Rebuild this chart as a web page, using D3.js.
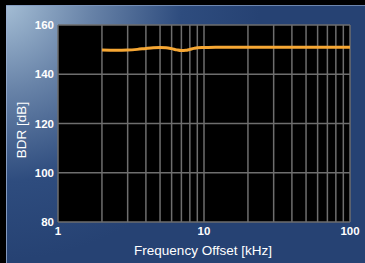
<!DOCTYPE html>
<html><head><meta charset="utf-8">
<script src="https://cdn.jsdelivr.net/npm/d3@7/dist/d3.min.js"></script>
<style>html,body{margin:0;padding:0;background:#000;}svg{display:block;}</style>
</head><body>
<script>
const freqs = [2, 2.5, 3, 3.5, 4, 4.5, 5, 5.5, 6, 6.5, 7, 7.5, 8, 8.5, 9, 10, 12, 15, 20, 30, 50, 70, 100];
const bdr   = [149.8, 149.7, 149.8, 150.1, 150.5, 150.8, 150.9, 150.8, 150.4, 149.9, 149.6, 149.7, 150.1, 150.5, 150.8, 150.9, 151, 151, 151, 151, 151, 151, 151];
const yTicks = [80, 100, 120, 140, 160];
const xTicks = [1, 10, 100];
const xMinor = [2,3,4,5,6,7,8,9,20,30,40,50,60,70,80,90];

const W = 365, H = 263;
const svg = d3.select("body").append("svg").attr("width", W).attr("height", H);
const defs = svg.append("defs");
const rg = defs.append("radialGradient").attr("id","bg").attr("gradientUnits","userSpaceOnUse")
  .attr("cx",0).attr("cy",0).attr("r",260);
rg.append("stop").attr("offset","0%").attr("stop-color","#a9c2d8");
rg.append("stop").attr("offset","35%").attr("stop-color","#6883a8");
rg.append("stop").attr("offset","70%").attr("stop-color","#2e4c7e");
rg.append("stop").attr("offset","100%").attr("stop-color","#264273");

svg.append("rect").attr("width",W).attr("height",H).attr("fill","#000");
svg.append("rect").attr("x",6).attr("y",5).attr("width",W-6).attr("height",H-5).attr("fill","url(#bg)");
svg.append("line").attr("x1",6.5).attr("x2",6.5).attr("y1",5).attr("y2",H).attr("stroke","#9aaed0").attr("stroke-width",1).attr("opacity",0.8);
svg.append("line").attr("x1",6).attr("x2",W).attr("y1",5.5).attr("y2",5.5).attr("stroke","#7f97bd").attr("stroke-width",1).attr("opacity",0.8);

const m = {l:58, t:25, r:350, b:222};
const x = d3.scaleLog().domain([1,100]).range([m.l, m.r]);
const y = d3.scaleLinear().domain([80,160]).range([m.b, m.t]);

svg.append("rect").attr("x",m.l).attr("y",m.t).attr("width",m.r-m.l).attr("height",m.b-m.t).attr("fill","#000");

const grid = svg.append("g").attr("stroke","#6e6e6e").attr("stroke-width",1.5);
grid.selectAll("line.v").data(xTicks.concat(xMinor)).join("line")
  .attr("x1",d=>x(d)).attr("x2",d=>x(d)).attr("y1",m.t).attr("y2",m.b);
grid.selectAll("line.h").data(yTicks).join("line")
  .attr("x1",m.l).attr("x2",m.r).attr("y1",d=>y(d)).attr("y2",d=>y(d));

const line = d3.line().x((d,i)=>x(freqs[i])).y(d=>y(d)).curve(d3.curveMonotoneX);
svg.append("path").datum(bdr).attr("d",line).attr("fill","none")
  .attr("stroke","#f6a734").attr("stroke-width",3);

const font = "Liberation Sans, Arial, sans-serif";
svg.append("g").selectAll("text").data(yTicks).join("text")
  .attr("x",54).attr("y",d=>y(d)+4).attr("text-anchor","end")
  .attr("fill","#fff").attr("font-family",font).attr("font-size",11.5).attr("font-weight","bold")
  .text(d=>d);
svg.append("g").selectAll("text").data(xTicks).join("text")
  .attr("x",d=>x(d)).attr("y",235).attr("text-anchor","middle")
  .attr("fill","#fff").attr("font-family",font).attr("font-size",11.5).attr("font-weight","bold")
  .text(d=>d);

svg.append("text").attr("x",203).attr("y",255).attr("text-anchor","middle")
  .attr("fill","#fff").attr("font-family",font).attr("font-size",13.5)
  .text("Frequency Offset [kHz]");
svg.append("text").attr("transform","translate(26,130) rotate(-90)").attr("text-anchor","middle")
  .attr("fill","#fff").attr("font-family",font).attr("font-size",13.5)
  .text("BDR [dB]");
</script>
</body></html>
